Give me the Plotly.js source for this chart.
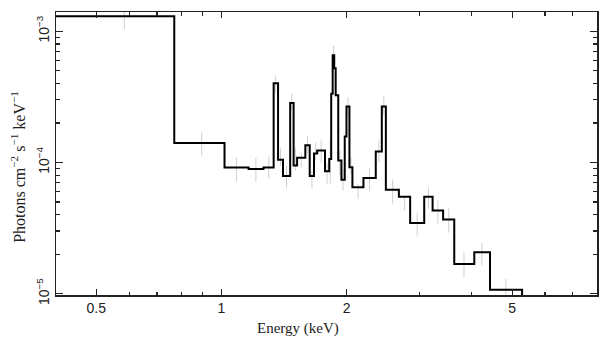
<!DOCTYPE html>
<html>
<head>
<meta charset="utf-8">
<script src="https://cdn.plot.ly/plotly-3.0.1.min.js"></script>
<style>html,body{margin:0;padding:0;background:#fff;}#chart{width:608px;height:357px;}</style>
</head>
<body>
<div id="chart"></div>
<script>
// Model histogram: bin edges (keV) and bin values (photons cm^-2 s^-1 keV^-1)
const binEdges = [0.40, 0.770, 1.017, 1.162, 1.262, 1.335, 1.368, 1.406, 1.463, 1.491,
  1.520, 1.591, 1.630, 1.669, 1.699, 1.774, 1.816, 1.836, 1.851, 1.867,
  1.882, 1.909, 1.943, 1.979, 1.998, 2.031, 2.065, 2.195, 2.350, 2.430,
  2.485, 2.671, 2.843, 3.073, 3.219, 3.412, 3.629, 4.055, 4.424, 5.284];
const binValues = [1.30e-3, 1.41e-4, 9.16e-5, 8.92e-5, 9.16e-5, 4.01e-4, 1.049e-4, 7.89e-5, 2.84e-4,
  9.49e-5, 1.086e-4, 1.356e-4, 7.89e-5, 1.171e-4, 1.235e-4, 8.58e-5, 1.063e-4, 3.34e-4,
  6.56e-4, 5.22e-4, 3.25e-4, 1.036e-4, 7.38e-5, 1.58e-4, 2.676e-4, 9.21e-5, 6.48e-5,
  7.61e-5, 1.213e-4, 2.676e-4, 6.19e-5, 5.48e-5, 3.46e-5, 5.48e-5, 4.30e-5, 3.67e-5,
  1.685e-5, 2.07e-5, 1.073e-5];

// Data points (grey error bars)
const dataE = [0.584, 0.896, 1.087, 1.21, 1.30, 1.35, 1.387, 1.434, 1.476, 1.505, 1.555, 1.61,
  1.65, 1.684, 1.737, 1.795, 1.826, 1.86, 1.926, 1.96, 2.015, 2.048, 2.13, 2.27, 2.39, 2.457,
  2.58, 2.756, 2.955, 3.145, 3.315, 3.52, 3.83, 4.23, 4.83];
const dataY = [1.20e-3, 1.40e-4, 8.9e-5, 8.9e-5, 9.2e-5, 4.0e-4, 1.12e-4, 7.8e-5, 2.9e-4, 1.06e-4,
  1.06e-4, 1.37e-4, 7.6e-5, 1.18e-4, 1.23e-4, 8.2e-5, 1.0e-4, 6.7e-4, 1.0e-4, 7.4e-5, 2.65e-4,
  9.5e-5, 6.1e-5, 7.7e-5, 1.24e-4, 2.7e-4, 6.0e-5, 5.0e-5, 3.4e-5, 5.4e-5, 4.2e-5, 3.7e-5,
  1.66e-5, 2.0e-5, 1.12e-5];
const dataLo = [1.036e-3, 1.131e-4, 7.16e-5, 7.16e-5, 7.55e-5, 3.4e-4, 9.5e-5, 6.44e-5, 2.5e-4, 8.69e-5,
  9.16e-5, 1.171e-4, 6.33e-5, 1.036e-4, 1.0e-4, 6.91e-5, 6.91e-5, 5.8e-4, 8.0e-5, 6.1e-5, 2.2e-4,
  8.24e-5, 5.31e-5, 6.11e-5, 1.0e-4, 2.3e-4, 4.86e-5, 4.30e-5, 2.77e-5, 4.46e-5, 3.42e-5, 2.92e-5,
  1.325e-5, 1.636e-5, 9.65e-6];
const dataHi = [1.45e-3, 1.694e-4, 1.092e-4, 1.092e-4, 1.111e-4, 4.61e-4, 1.279e-4, 9.49e-5, 3.345e-4, 1.302e-4,
  1.192e-4, 1.607e-4, 8.69e-5, 1.421e-4, 1.472e-4, 9.83e-5, 1.472e-4, 7.82e-4, 1.24e-4, 8.9e-5, 3.15e-4,
  1.092e-4, 6.91e-5, 9.0e-5, 1.472e-4, 3.19e-4, 7.42e-5, 5.60e-5, 4.15e-5, 6.44e-5, 5.13e-5, 4.46e-5,
  2.06e-5, 2.45e-5, 1.302e-5];

const xMajor = [0.5, 1, 2, 5];
const xMajorText = ['0.5', '1', '2', '5'];
const xMinor = [0.4, 0.6, 0.7, 0.8, 0.9, 3, 4, 6, 7, 8];
const yMajor = [1e-5, 1e-4, 1e-3];
const yMajorText = ['10<sup>−5</sup>', '10<sup>−4</sup>', '10<sup>−3</sup>'];
const yMinor = [];
[1e-5, 1e-4, 1e-3].forEach(d => { for (let m = 2; m <= 9; m++) yMinor.push(m * d); });

// step line: left edges with values, then last right edge, then drop below the axis
const stepX = binEdges.slice(0, binValues.length).concat([binEdges[binEdges.length - 1], binEdges[binEdges.length - 1]]);
const stepY = binValues.concat([binValues[binValues.length - 1], 1e-7]);

const errTrace = {
  x: dataE, y: dataY, type: 'scatter', mode: 'markers',
  marker: {size: 1, color: 'rgba(0,0,0,0)'},
  error_y: {type: 'data', symmetric: false,
    array: dataHi.map((h, i) => h - dataY[i]),
    arrayminus: dataLo.map((l, i) => dataY[i] - l),
    color: '#cfcfcf', thickness: 1, width: 0},
  hoverinfo: 'skip', showlegend: false, cliponaxis: true
};
const stepTrace = {
  x: stepX, y: stepY, type: 'scatter', mode: 'lines',
  line: {shape: 'hv', color: '#000', width: 2},
  showlegend: false
};

const axisCommon = {
  showline: true, linecolor: '#222', linewidth: 1.5, mirror: 'allticks',
  ticks: 'inside', tickcolor: '#222', tickwidth: 1.2, showgrid: false, zeroline: false,
  tickfont: {family: 'Liberation Sans, Arial, sans-serif', size: 14, color: '#222'}
};

const layout = {
  width: 608, height: 357,
  margin: {l: 56, r: 11, t: 12, b: 62},
  paper_bgcolor: '#fff', plot_bgcolor: '#fff',
  showlegend: false,
  xaxis: Object.assign({}, axisCommon, {
    type: 'log', range: [Math.log10(0.4), Math.log10(8)],
    tickmode: 'array', tickvals: xMajor, ticktext: xMajorText, ticklen: 6,
    minor: {tickmode: 'array', tickvals: xMinor, ticks: 'inside', ticklen: 3.5, tickcolor: '#222', tickwidth: 1.2, showgrid: false}
  }),
  yaxis: Object.assign({}, axisCommon, {
    type: 'log', range: [-5.01, -2.853],
    tickmode: 'array', tickvals: yMajor, ticktext: yMajorText, ticklen: 7, tickangle: -90,
    minor: {tickmode: 'array', tickvals: yMinor, ticks: 'inside', ticklen: 4, tickcolor: '#222', tickwidth: 1.2, showgrid: false}
  }),
  annotations: [
    {text: 'Energy (keV)', xref: 'paper', yref: 'paper', x: 0.4473, y: -0.12,
     xanchor: 'center', yanchor: 'middle', showarrow: false,
     font: {family: 'Liberation Serif, Times New Roman, serif', size: 15, color: '#222'}},
    {text: 'Photons cm<sup>−2</sup> s<sup>−1</sup> keV<sup>−1</sup>', xref: 'paper', yref: 'paper',
     x: -0.07, y: 0.4533, xanchor: 'center', yanchor: 'middle', textangle: -90, showarrow: false,
     font: {family: 'Liberation Serif, Times New Roman, serif', size: 16, color: '#222'}}
  ]
};

Plotly.newPlot('chart', [errTrace, stepTrace], layout, {staticPlot: true, displayModeBar: false});
</script>
</body>
</html>
